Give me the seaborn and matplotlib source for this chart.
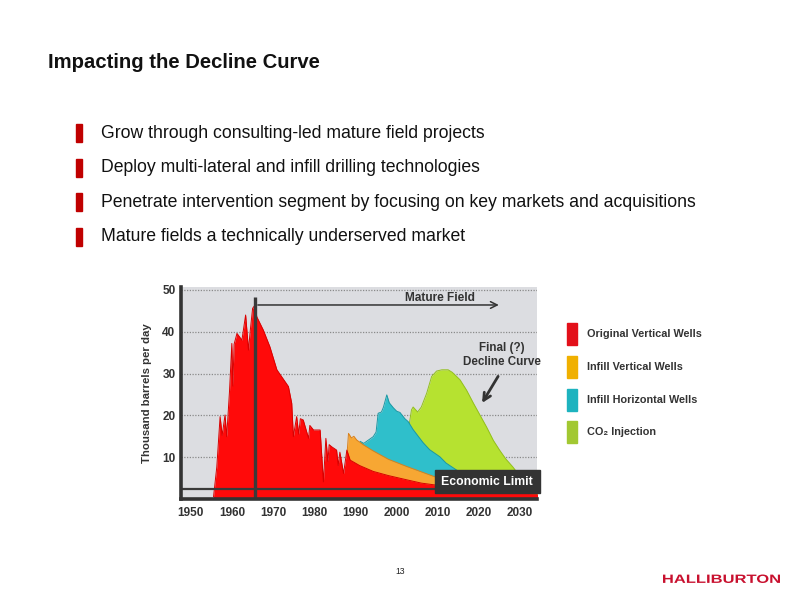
import numpy as np
import matplotlib
matplotlib.use("Agg")
import matplotlib.pyplot as plt
import seaborn as sns
from matplotlib.patches import Rectangle, PathPatch
from matplotlib.textpath import TextPath
from matplotlib.font_manager import FontProperties
from matplotlib.transforms import Affine2D

# ---- data (cumulative tops of each layer, thousand barrels per day) ----
red_years = [1955.5, 1956.3, 1957.1, 1957.6, 1958.3, 1958.7, 1959.4, 1959.95, 1960.2, 1960.5,
             1961.2, 1962.4, 1963.3, 1964.0, 1964.4, 1965.0, 1965.6, 1966.0, 1967.6, 1969.2,
             1970.9, 1972.3, 1973.7, 1974.5, 1974.9, 1975.7, 1976.2, 1976.6, 1977.3, 1978.6,
             1978.9, 1979.8, 1981.4, 1982.2, 1982.8, 1983.3, 1983.6, 1984.2, 1985.4, 1985.8,
             1986.2, 1987.1, 1987.9, 1988.7, 1991.0, 1994.3, 1998.0, 2002.4, 2006.0, 2010.5,
             2015.0, 2020.0, 2025.0, 2030.0, 2034.5]
red_vals = [0.5, 7.7, 19.7, 15.2, 20.1, 14.9, 26.0, 37.2, 27.0, 37.0,
            39.6, 38.0, 44.0, 35.6, 40.0, 45.6, 46.4, 43.6, 40.4, 36.4,
            30.9, 28.9, 26.9, 22.9, 14.9, 19.7, 15.5, 19.2, 18.9, 14.5,
            17.6, 16.5, 16.5, 4.1, 14.5, 9.0, 13.0, 12.5, 11.7, 8.0,
            11.2, 6.1, 11.7, 9.3, 8.0, 6.6, 5.6, 4.6, 3.8, 3.2,
            2.6, 2.1, 1.7, 1.4, 1.2]

orange_years = [1987.9, 1988.3, 1989.0, 1989.6, 1990.3, 1992.0, 1994.3, 1998.0, 2002.4,
                2006.0, 2009.6, 2015.0, 2020.0, 2025.0, 2030.0, 2034.5]
orange_vals = [10.1, 15.7, 14.6, 15.0, 14.1, 12.9, 11.5, 9.5, 7.8, 6.5, 5.2, 3.7, 2.7, 2.0, 1.5, 1.2]

teal_years = [1991.1, 1992.0, 1993.0, 1994.3, 1995.0, 1995.5, 1996.3, 1996.8, 1997.6, 1998.2,
              1999.2, 2000.0, 2000.8, 2002.0, 2002.8, 2004.0, 2006.4, 2008.0, 2010.5, 2012.0,
              2014.6, 2018.0, 2022.0, 2026.0, 2030.0]
teal_vals = [13.8, 13.3, 14.0, 14.9, 16.0, 20.5, 20.8, 22.0, 24.9, 23.0,
             21.8, 21.0, 20.7, 19.2, 18.5, 16.6, 13.5, 11.8, 10.1, 8.6,
             6.9, 5.0, 3.4, 2.3, 1.6]

green_years = [2003.1, 2003.6, 2004.0, 2005.1, 2006.0, 2007.3, 2008.5, 2009.7, 2011.0, 2012.5,
               2013.5, 2015.4, 2017.0, 2018.6, 2020.0, 2021.8, 2023.5, 2025.0, 2026.5, 2028.2,
               2030.7, 2033.0, 2034.5]
green_vals = [18.1, 21.3, 22.0, 20.8, 22.0, 25.3, 29.3, 30.6, 30.9, 30.9,
              30.3, 28.5, 26.0, 23.0, 20.5, 17.3, 14.0, 11.7, 9.6, 7.7,
              4.5, 2.0, 1.2]

layer_names = ["Original Vertical Wells", "Infill Vertical Wells",
               "Infill Horizontal Wells", "CO\u2082 Injection"]
layer_colors = ["#ff0a0a", "#f7a733", "#2fbfcb", "#b6e230"]
edge_colors = ["#d80000", "#d9801a", "#1a98a4", "#93bf1e"]
legend_colors = ["#e3101a", "#f0b000", "#1db3bf", "#a2c832"]

bullets = ["Grow through consulting-led mature field projects",
           "Deploy multi-lateral and infill drilling technologies",
           "Penetrate intervention segment by focusing on key markets and acquisitions",
           "Mature fields a technically underserved market"]

x_ticks = [1950, 1960, 1970, 1980, 1990, 2000, 2010, 2020, 2030]
y_ticks = [10, 20, 30, 40, 50]

mature_year = 1965.6
econ_limit = 2.4

sns.set_style("white")
plt.rcParams["font.family"] = ["Liberation Sans", "DejaVu Sans"]

fig = plt.figure(figsize=(8, 6), dpi=100)
W, H = 800, 600

def fx(px):
    return px / W

def fy(py):
    return 1 - py / H

# title and bullets
fig.text(fx(48), fy(62), "Impacting the Decline Curve", fontsize=14.6, fontweight="bold",
         color="#111111", va="center", ha="left")
for i, b in enumerate(bullets):
    yc = 133 + i * 34.6
    fig.patches.append(Rectangle((fx(76), fy(yc + 9)), 6 / W, 18 / H, transform=fig.transFigure,
                                 color="#c00000", figure=fig))
    fig.text(fx(101), fy(yc), b, fontsize=12.7, color="#111111", va="center", ha="left")

# chart
ax = fig.add_axes([fx(181), fy(499), (537 - 181) / W, (499 - 287) / H])
ax.set_facecolor("#dcdde1")

layers = [(red_years, red_vals), (orange_years, orange_vals),
          (teal_years, teal_vals), (green_years, green_vals)]
# paint back to front: green, teal, orange, red
for k in [3, 2, 1, 0]:
    yrs, vals = layers[k]
    ax.fill_between(yrs, vals, 0, color=layer_colors[k], lw=0, zorder=2 + (3 - k))
    sns.lineplot(x=yrs, y=vals, ax=ax, color=edge_colors[k], lw=0.7, zorder=2.5 + (3 - k),
                 sort=False, estimator=None)

ax.set_xlim(1947.6, 2034.1)
ax.set_ylim(0, 50.7)
ax.set_xticks(x_ticks)
ax.set_yticks(y_ticks)
ax.set_xticklabels([str(t) for t in x_ticks], fontsize=8.5, fontweight="bold", color="#333333")
ax.set_yticklabels([str(t) for t in y_ticks], fontsize=8.5, fontweight="bold", color="#333333")
ax.tick_params(length=0, pad=6)
ax.tick_params(axis="y", pad=4)
ax.set_axisbelow(True)
ax.yaxis.grid(True, linestyle=(0, (1, 1.2)), color="#8a8a8a", lw=0.9, zorder=1)
ax.xaxis.grid(False)
for s in ["top", "right"]:
    ax.spines[s].set_visible(False)
for s in ["left", "bottom"]:
    ax.spines[s].set_color("#333333")
    ax.spines[s].set_linewidth(2.6)
    ax.spines[s].set_zorder(10)
ax.set_ylabel("Thousand barrels per day", fontsize=8.2, fontweight="bold", color="#333333",
              labelpad=7)

# economic limit
ax.plot([1947.6, 2010], [econ_limit, econ_limit], color="#3a3a3a", lw=1.6, zorder=8)
ax.add_patch(Rectangle((2009.4, 1.4), 25.4, 5.5, color="#333333", zorder=9, clip_on=False))
ax.text(2022.0, 4.15, "Economic Limit", color="white", fontsize=8.8, fontweight="bold",
        ha="center", va="center", zorder=10, clip_on=False)

# mature field marker
ax.plot([mature_year, mature_year], [0, 48.4], color="#3a3a3a", lw=2.4, zorder=8,
        solid_capstyle="butt")
ax.annotate("", xy=(2025.5, 46.4), xytext=(mature_year, 46.4),
            arrowprops=dict(arrowstyle="->", color="#333333", lw=1.1, mutation_scale=12),
            zorder=8)
ax.text(2010.6, 48.1, "Mature Field", fontsize=8.6, fontweight="bold", color="#333333",
        ha="center", va="center", zorder=9)

# final decline curve note
ax.text(2025.5, 34.4, "Final (?)\nDecline Curve", fontsize=8.4, fontweight="bold",
        color="#333333", ha="center", va="center", linespacing=1.2, zorder=9)
ax.annotate("", xy=(2020.4, 22.4), xytext=(2025.0, 29.9),
            arrowprops=dict(arrowstyle="->", color="#333333", lw=2.0, mutation_scale=13),
            zorder=9)

# legend
for i, (name, c) in enumerate(zip(layer_names, legend_colors)):
    yc = 334 + i * 32.8
    fig.patches.append(Rectangle((fx(567), fy(yc + 11)), 10 / W, 22 / H,
                                 transform=fig.transFigure, color=c, figure=fig))
    fig.text(fx(587), fy(yc), name, fontsize=7.8, fontweight="bold", color="#333333",
             va="center", ha="left")

# page number
fig.text(fx(400), fy(571), "13", fontsize=6.2, color="#222222", ha="center", va="center")

# logo
tp = TextPath((0, 0), "HALLIBURTON", size=10,
              prop=FontProperties(family="Liberation Sans", weight="bold"))
ext = tp.get_extents()
sx = (117 / 100) / ext.width
sy = (8.5 / 100) / ext.height
trans = Affine2D().translate(-ext.x0, -ext.y0).scale(sx, sy).translate(663 / 100, (600 - 583) / 100)
fig.patches.append(PathPatch(tp, color="#c8102e", lw=0, transform=trans + fig.dpi_scale_trans,
                             figure=fig))

fig.savefig("out.png", dpi=100)
